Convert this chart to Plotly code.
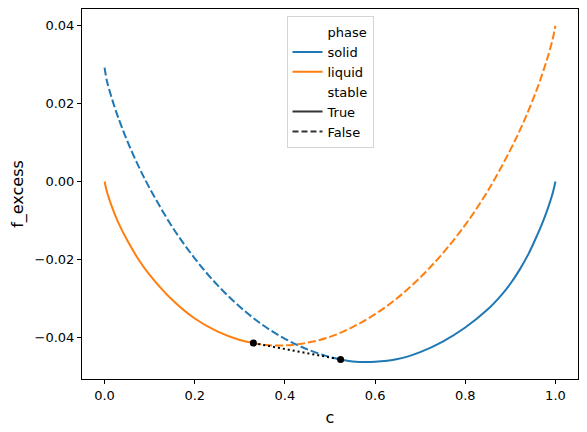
import plotly.graph_objects as go

# liquid free energy (orange), stable part up to the left tangent point
c_liquid_stable = [0.0, 0.005, 0.01, 0.02, 0.03, 0.05, 0.075, 0.1, 0.15, 0.2, 0.25, 0.3, 0.33]
f_liquid_stable = [0.0, -0.0025, -0.0044, -0.0076, -0.0104, -0.0150, -0.0199, -0.0239,
                   -0.0303, -0.0351, -0.0384, -0.0406, -0.0414]
# liquid, metastable part
c_liquid_unstable = [0.33, 0.36, 0.4, 0.45, 0.5, 0.55, 0.6, 0.65, 0.7, 0.75, 0.8, 0.85,
                     0.9, 0.93, 0.96, 0.98, 0.99, 0.995, 1.0]
f_liquid_unstable = [-0.0414, -0.0419, -0.0420, -0.0413, -0.0398, -0.0373, -0.0340, -0.0298,
                     -0.0246, -0.0184, -0.0111, -0.0024, 0.0081, 0.0154, 0.0240, 0.0308,
                     0.0348, 0.0371, 0.0399]

# solid free energy (blue), metastable part up to the right tangent point
c_solid_unstable = [0.0, 0.005, 0.01, 0.02, 0.03, 0.05, 0.075, 0.1, 0.15, 0.2, 0.25, 0.3,
                    0.35, 0.4, 0.45, 0.5, 0.5235]
f_solid_unstable = [0.0292, 0.0259, 0.0237, 0.0199, 0.0165, 0.0105, 0.0040, -0.0017,
                    -0.0116, -0.0197, -0.0265, -0.0321, -0.0367, -0.0403, -0.0430,
                    -0.0450, -0.0456]
# solid, stable part
c_solid_stable = [0.5235, 0.55, 0.6, 0.65, 0.7, 0.75, 0.8, 0.85, 0.88, 0.9, 0.92, 0.94,
                  0.96, 0.97, 0.98, 0.99, 0.995, 1.0]
f_solid_stable = [-0.0456, -0.0461, -0.0462, -0.0455, -0.0437, -0.0410, -0.0374, -0.03275,
                  -0.0291, -0.0262, -0.0227, -0.0186, -0.0136, -0.0109, -0.0079, -0.0045,
                  -0.0025, 0.0]

# common tangent
c_tangent = [0.330, 0.5235]
f_tangent = [-0.0414, -0.0456]

blue = '#1f77b4'
orange = '#ff7f0e'
dark = '#333333'
font = 'DejaVu Sans, Arial, sans-serif'

fig = go.Figure()

fig.add_trace(go.Scatter(x=c_solid_unstable, y=f_solid_unstable, mode='lines',
                         line=dict(color=blue, width=2, dash='8px,3px', shape='spline'),
                         showlegend=False))
fig.add_trace(go.Scatter(x=c_solid_stable, y=f_solid_stable, mode='lines',
                         line=dict(color=blue, width=2, shape='spline'),
                         showlegend=False))
fig.add_trace(go.Scatter(x=c_liquid_stable, y=f_liquid_stable, mode='lines',
                         line=dict(color=orange, width=2, shape='spline'),
                         showlegend=False))
fig.add_trace(go.Scatter(x=c_liquid_unstable, y=f_liquid_unstable, mode='lines',
                         line=dict(color=orange, width=2, dash='8px,3px', shape='spline'),
                         showlegend=False))
fig.add_trace(go.Scatter(x=c_tangent, y=f_tangent, mode='lines+markers',
                         line=dict(color='black', width=2, dash='2px,3px'),
                         marker=dict(color='black', size=7),
                         showlegend=False))

# legend entries (seaborn style: hue + style)
legend_items = [('phase', 'rgba(0,0,0,0)', 'solid'),
                ('solid', blue, 'solid'),
                ('liquid', orange, 'solid'),
                ('stable', 'rgba(0,0,0,0)', 'solid'),
                ('True', dark, 'solid'),
                ('False', dark, '6px,3px')]
for name, col, dash in legend_items:
    fig.add_trace(go.Scatter(x=[None], y=[None], mode='lines', name=name,
                             line=dict(color=col, width=2, dash=dash)))

axis_style = dict(showline=True, linecolor='black', linewidth=1, mirror=True,
                  ticks='outside', ticklen=4, tickcolor='black', showgrid=False,
                  zeroline=False, automargin=False, tickfont=dict(size=13, color='black'))

# the page body has an 8px margin, so the margins are shifted by that
fig.update_layout(
    width=587, height=432,
    margin=dict(l=74, r=17, t=1, b=61),
    paper_bgcolor='white', plot_bgcolor='white',
    font=dict(family=font, size=13, color='black'),
    xaxis=dict(range=[-0.05, 1.05], tickvals=[0, 0.2, 0.4, 0.6, 0.8, 1.0],
               tickformat='.1f', title=dict(text='c', standoff=10), **axis_style),
    yaxis=dict(range=[-0.0506, 0.0442], tickvals=[-0.04, -0.02, 0.0, 0.02, 0.04],
               tickformat='.2f', title=dict(text='f_excess', standoff=6), **axis_style),
    legend=dict(x=0.5, y=0.981, xanchor='center', yanchor='top',
                bordercolor='#d5d5d5', borderwidth=1, bgcolor='white',
                font=dict(size=13), tracegroupgap=0),
)

fig.write_html("out.html")
